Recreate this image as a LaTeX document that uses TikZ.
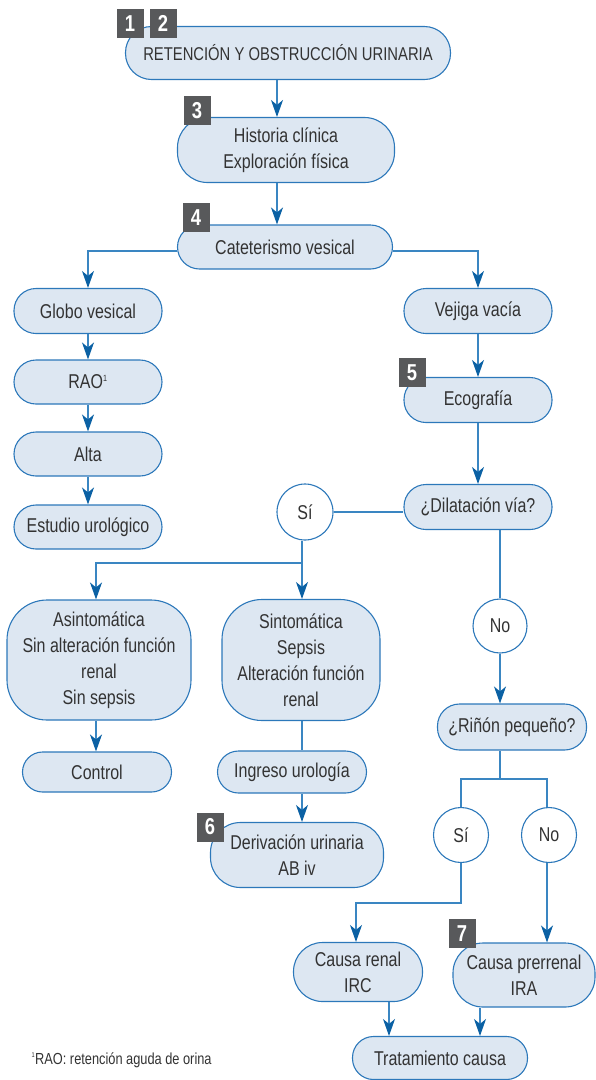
\documentclass[tikz,border=0pt]{standalone}
\usepackage{fontspec}
\setmainfont{Liberation Sans}[FakeStretch=0.8]
\usepackage{tikz}
\usetikzlibrary{arrows.meta,calc}
\definecolor{boxfill}{HTML}{DDE7F2}
\definecolor{boxline}{HTML}{2C78BA}
\definecolor{arrline}{HTML}{3A86C2}
\definecolor{tipblue}{HTML}{0B61A4}
\definecolor{badgegray}{HTML}{58595B}
\definecolor{txt}{HTML}{333333}

\begin{document}
\begin{tikzpicture}[x=1pt, y=-1pt,
  font=\fontsize{20}{26}\selectfont,
  box/.style={draw=boxline, fill=boxfill, line width=1.1pt, rounded corners=22pt,
              align=center, text=txt, minimum width=148pt, minimum height=45pt, inner sep=2pt},
  tall/.style={box, rounded corners=40pt},
  yesno/.style={circle, draw=boxline, fill=white, line width=1.1pt, text=txt,
                minimum size=55pt, inner sep=0pt},
  badge/.style={fill=badgegray, text=white, font=\fontsize{23}{23}\selectfont\bfseries,
                minimum width=27pt, minimum height=29pt, inner sep=0pt},
  ln/.style={line width=1.4pt, draw=arrline},
  arr/.style={ln, -{Stealth[length=17pt,width=12pt,inset=5pt,color=tipblue]}},
]
\useasboundingbox (0,0) rectangle (596,1080);

\node[box, minimum width=325pt, minimum height=53pt, rounded corners=26pt, font=\fontsize{18.5}{24}\selectfont] (ret) at (288,53) {RETENCIÓN Y OBSTRUCCIÓN URINARIA};
\node[box, minimum width=217pt, minimum height=65pt, rounded corners=30pt] (hist) at (286,150) {Historia clínica\\Exploración física};
\node[box, minimum width=215pt, minimum height=44pt] (cat) at (285,247) {Cateterismo vesical};

\node[box] (globo) at (88,311) {Globo vesical};
\node[box, minimum height=44pt] (rao) at (88,382) {RAO\textsuperscript{\fontsize{9}{9}\selectfont 1}};
\node[box, minimum height=44pt] (alta) at (88,454) {Alta};
\node[box, minimum height=44pt] (estudio) at (88,527) {Estudio urológico};

\node[box] (vejiga) at (478,311) {Vejiga vacía};
\node[box] (eco) at (478,400) {Ecografía};
\node[box] (dil) at (478,507) {¿Dilatación vía?};

\node[yesno, minimum size=56pt] (si1) at (305,512) {Sí};
\node[tall, minimum width=184pt, minimum height=120pt] (asin) at (99,660) {Asintomática\\Sin alteración función\\renal\\Sin sepsis};
\node[tall, minimum width=158pt, minimum height=121pt] (sint) at (301,660) {Sintomática\\Sepsis\\Alteración función\\renal};
\node[box, minimum width=149pt, minimum height=40pt, rounded corners=20pt] (control) at (97,772) {Control};
\node[box, minimum width=149pt, minimum height=42pt, rounded corners=21pt] (ingreso) at (292,772) {Ingreso urología};
\node[box, minimum width=173pt, minimum height=65pt, rounded corners=30pt] (deriv) at (297,855) {Derivación urinaria\\AB iv};

\node[yesno, minimum size=54pt] (no1) at (500,626) {No};
\node[box, minimum width=149pt, minimum height=46pt] (rinon) at (512,727) {¿Riñón pequeño?};
\node[yesno] (si2) at (461,835) {Sí};
\node[yesno] (no2) at (549,835) {No};

\node[box, minimum width=129pt, minimum height=59pt, rounded corners=29pt] (renal) at (358,972) {Causa renal\\IRC};
\node[box, minimum width=142pt, minimum height=64pt, rounded corners=30pt] (prer) at (524,975) {Causa prerrenal\\IRA};
\node[box, minimum width=175pt, minimum height=43pt, rounded corners=21pt] (trat) at (440,1058) {Tratamiento causa};

\node[text=txt, font=\fontsize{16}{18}\selectfont, anchor=west] (nota) at (28,1060) {\textsuperscript{\fontsize{7}{7}\selectfont 1}RAO: retención aguda de orina};

\node[badge] (b1) at (130,23.5) {1};
\node[badge] (b2) at (163,23.5) {2};
\node[badge] (b3) at (197,110.5) {3};
\node[badge] (b4) at (196,217.5) {4};
\node[badge] (b5) at (412,372.5) {5};
\node[badge] (b6) at (210,827) {6};
\node[badge] (b7) at (462,933.5) {7};

\coordinate (c1) at (277,0);
\coordinate (c2) at (389,0);
\coordinate (c3) at (480,0);
\coordinate (j1) at (302,563);
\coordinate (j2) at (500,779);
\coordinate (j3) at (461,903);

\draw[arr] (ret.south -| c1) -- (hist.north -| c1);
\draw[arr] (hist.south -| c1) -- (cat.north -| c1);
\draw[arr] ([yshift=-4pt]cat.west) -| (globo.north);
\draw[arr] ([yshift=-4pt]cat.east) -| (vejiga.north);
\draw[arr] (globo) -- (rao);
\draw[arr] (rao) -- (alta);
\draw[arr] (alta) -- (estudio);
\draw[arr] (vejiga) -- (eco);
\draw[arr] (eco) -- (dil);
\draw[ln] (si1.east) -- (si1.east -| dil.west);
\draw[arr] (si1.south -| j1) -- (sint.north -| j1);
\draw[arr] (j1) -| ([xshift=-3pt]asin.north);
\draw[arr] ([xshift=-3pt]asin.south) -- ([xshift=-3pt]asin.south |- control.north);
\draw[ln] (sint.south -| j1) -- (ingreso.north -| j1);
\draw[arr] (ingreso.south -| j1) -- (deriv.north -| j1);
\draw[ln] (dil.south -| no1) -- (no1.north);
\draw[arr] (no1.south) -- (no1.south |- rinon.north);
\draw[ln] (rinon.south -| j2) -- (j2) -| (si2.north);
\draw[ln] (j2) -| ([xshift=-2pt]no2.north);
\draw[arr] (si2.south) -- (j3) -| ([xshift=-2pt]renal.north);
\draw[arr] ([xshift=-2pt]no2.south) -- ([xshift=-2pt]no2.south |- prer.north);
\draw[arr] (renal.south -| c2) -- (trat.north -| c2);
\draw[arr] (prer.south -| c3) -- (trat.north -| c3);
\end{tikzpicture}
\end{document}
